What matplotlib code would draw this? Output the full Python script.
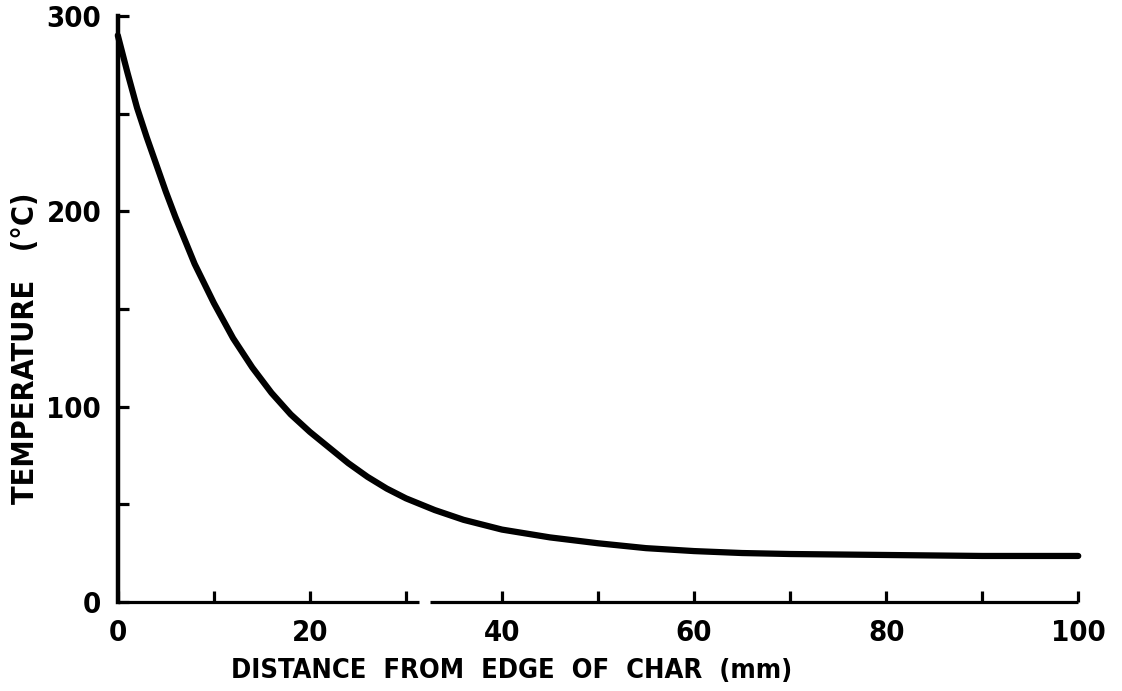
import numpy as np
import matplotlib
matplotlib.use('Agg')
import matplotlib.pyplot as plt

# Temperature profile
distance = [0, 1, 2, 3, 4, 5, 6, 7, 8, 9, 10, 12, 14, 16, 18, 20, 22, 24, 26, 28,
            30, 33, 36, 40, 45, 50, 55, 60, 65, 70, 80, 90, 100]
temperature = [290, 271, 253, 238, 224, 210, 197, 185, 173, 163, 153, 135, 120, 107, 96, 87, 79, 71, 64, 58,
               53, 47, 42, 37, 33, 30, 27.5, 26, 25, 24.5, 24, 23.5, 23.5]

x_ticks = list(range(0, 101, 10))
x_labels = ['0', '', '20', '', '40', '', '60', '', '80', '', '100']
y_ticks = list(range(0, 301, 50))
y_labels = ['0', '', '100', '', '200', '', '300']
# break in the x axis line
axis_break = (31.4, 32.5)

plt.rcParams['font.family'] = ['DejaVu Sans']
plt.rcParams['font.stretch'] = 'condensed'

fig = plt.figure(figsize=(11.22, 6.91), dpi=100)
ax = fig.add_axes([0.105, 0.129, 0.856, 0.848])

ax.plot(distance, temperature, color='black', linewidth=4.5, solid_capstyle='round', clip_on=False)

ax.set_xlim(0, 100)
ax.set_ylim(0, 300)

# axes lines: left solid, bottom broken
for s in ['top', 'right', 'bottom']:
    ax.spines[s].set_visible(False)
ax.spines['left'].set_linewidth(3.2)
ax.hlines(0, 0, axis_break[0], color='black', linewidth=2.3, clip_on=False)
ax.hlines(0, axis_break[1], 100, color='black', linewidth=2.3, clip_on=False)

ax.set_xticks(x_ticks)
ax.set_xticklabels(x_labels)
ax.set_yticks(y_ticks)
ax.set_yticklabels(y_labels)
ax.tick_params(axis='both', direction='in', length=8, width=2.3, labelsize=21, pad=12)
for lab in ax.get_xticklabels() + ax.get_yticklabels():
    lab.set_fontweight('bold')

ax.set_xlabel('DISTANCE  FROM  EDGE  OF  CHAR  (mm)', fontsize=19.5, fontweight='bold')
ax.set_ylabel('TEMPERATURE   (°C)', fontsize=22, fontweight='bold')
ax.xaxis.set_label_coords(0.41, -0.118)
ax.yaxis.set_label_coords(-0.096, 0.432)
ax.xaxis.label.set_va('center')
ax.yaxis.label.set_va('center')

fig.savefig('out.png', dpi=100)
